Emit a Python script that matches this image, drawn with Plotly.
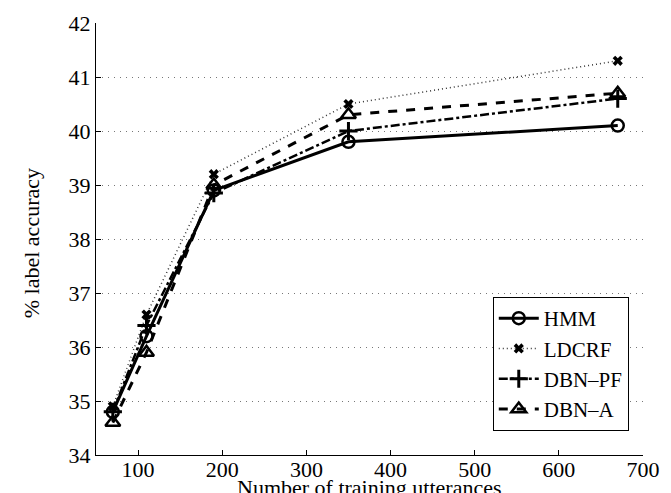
import plotly.graph_objects as go

x_utts = [70, 110, 190, 350, 670]
hmm = [34.8, 36.2, 38.9, 39.8, 40.1]
ldcrf = [34.9, 36.6, 39.2, 40.5, 41.3]
dbn_pf = [34.8, 36.4, 38.85, 40.0, 40.6]
dbn_a = [34.6, 35.9, 39.0, 40.3, 40.7]

x_ticks = [100, 200, 300, 400, 500, 600, 700]
y_ticks = [34, 35, 36, 37, 38, 39, 40, 41, 42]

FONT = "Liberation Serif"

fig = go.Figure()
fig.add_trace(go.Scatter(x=x_utts, y=hmm, name="HMM", mode="lines+markers",
                         line=dict(color="black", width=3, dash="solid"),
                         marker=dict(symbol="circle-open", size=12, color="black",
                                     line=dict(width=2.5, color="black"))))
fig.add_trace(go.Scatter(x=x_utts, y=ldcrf, name="LDCRF", mode="lines+markers",
                         line=dict(color="#333333", width=1.5, dash="1px,3px"),
                         marker=dict(symbol="x", size=9, color="black",
                                     line=dict(width=0))))
fig.add_trace(go.Scatter(x=x_utts, y=dbn_pf, name="DBN\u2013PF", mode="lines+markers",
                         line=dict(color="black", width=2.5, dash="dashdot"),
                         marker=dict(symbol="cross-thin-open", size=13, color="black",
                                     line=dict(width=3, color="black"))))
fig.add_trace(go.Scatter(x=x_utts, y=dbn_a, name="DBN\u2013A", mode="lines+markers",
                         line=dict(color="black", width=3, dash="dash"),
                         marker=dict(symbol="triangle-up-open", size=13, color="black",
                                     line=dict(width=2.5, color="black"))))

fig.update_layout(
    width=671, height=493,
    margin=dict(l=88, r=36, t=15, b=46, autoexpand=False),
    paper_bgcolor="white", plot_bgcolor="white",
    font=dict(family=FONT, size=22, color="black"),
    showlegend=True,
    legend=dict(x=0.974, y=0.0556, xanchor="right", yanchor="bottom",
                bordercolor="black", borderwidth=1, bgcolor="white",
                font=dict(family=FONT, size=21, color="black"),
                tracegroupgap=0, itemwidth=40),
    xaxis=dict(range=[50, 700], tickvals=x_ticks, ticks="inside", ticklen=5,
               tickcolor="black", showline=True, linecolor="black", linewidth=1,
               showgrid=False, zeroline=False, mirror=False, automargin=False,
               ticklabelstandoff=-5,
               tickfont=dict(family=FONT, size=22, color="black")),
    yaxis=dict(range=[34, 42], tickvals=y_ticks, ticks="inside", ticklen=5,
               tickcolor="black", showline=True, linecolor="black", linewidth=1,
               showgrid=True, gridcolor="#777777", gridwidth=1, griddash="1px,5px",
               zeroline=False, mirror=False, automargin=False,
               tickfont=dict(family=FONT, size=22, color="black")),
    annotations=[
        dict(text="Number of training utterances", xref="paper", yref="paper",
             x=0.5, y=-0.042, xanchor="center", yanchor="top", showarrow=False,
             font=dict(family=FONT, size=22, color="black")),
        dict(text="% label accuracy", xref="paper", yref="paper",
             x=-0.119, y=0.49, xanchor="center", yanchor="middle", showarrow=False,
             textangle=-90, font=dict(family=FONT, size=22, color="black")),
    ],
)

fig.write_html("out.html")
